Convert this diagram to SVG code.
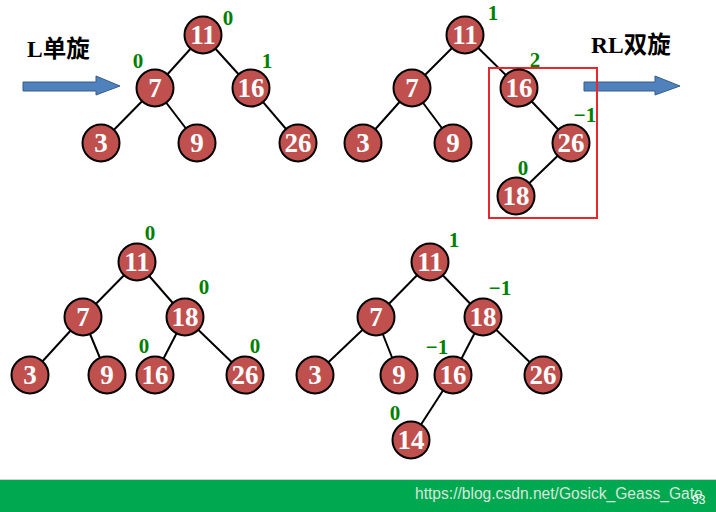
<svg xmlns="http://www.w3.org/2000/svg" width="716" height="512" viewBox="0 0 716 512">
<style>
.n circle{fill:#c0504d;stroke:#000;stroke-width:2}
.n text{fill:#fff;font-family:"Liberation Serif",serif;font-weight:bold;font-size:27px;text-anchor:middle}
.b{fill:#008000;font-family:"Liberation Serif",serif;font-weight:bold;font-size:21px;text-anchor:middle}
.e line{stroke:#000;stroke-width:2}
.t{font-family:"Liberation Serif","Noto Sans CJK SC",serif;font-weight:bold;font-size:23.5px;fill:#000}
.arr{fill:#4f81bd;stroke:#385d8a;stroke-width:1}
</style>
<rect width="716" height="512" fill="#fff"/>
<text class="t" x="27" y="57">L单旋</text>
<polygon class="arr" points="23,82 96,82 96,76 120,86 96,95 96,91 23,91"/>
<text class="t" x="591" y="53">RL双旋</text>
<polygon class="arr" points="584,82 655,82 655,76 680,86 655,95 655,91 584,91"/>
<g class="e" id="connectors">
<line x1="203" y1="35" x2="155" y2="88"/><line x1="203" y1="35" x2="251" y2="88"/>
<line x1="155" y1="88" x2="101" y2="143"/><line x1="155" y1="88" x2="197" y2="143"/>
<line x1="251" y1="88" x2="298" y2="143"/>
<line x1="465" y1="35" x2="412" y2="88"/><line x1="465" y1="35" x2="519" y2="88"/>
<line x1="412" y1="88" x2="363" y2="143"/><line x1="412" y1="88" x2="453" y2="143"/>
<line x1="519" y1="88" x2="571" y2="143"/><line x1="571" y1="143" x2="516" y2="196"/>
<line x1="137" y1="262" x2="83" y2="317"/><line x1="137" y1="262" x2="185" y2="317"/>
<line x1="83" y1="317" x2="30" y2="375"/><line x1="83" y1="317" x2="107" y2="375"/>
<line x1="185" y1="317" x2="155" y2="375"/><line x1="185" y1="317" x2="245" y2="375"/>
<line x1="430" y1="262" x2="376" y2="317"/><line x1="430" y1="262" x2="483" y2="317"/>
<line x1="376" y1="317" x2="315" y2="375"/><line x1="376" y1="317" x2="399" y2="375"/>
<line x1="483" y1="317" x2="453" y2="375"/><line x1="483" y1="317" x2="543" y2="375"/>
<line x1="453" y1="375" x2="411" y2="440"/>
</g>
<rect x="489" y="68" width="108" height="150" fill="none" stroke="#e8262b" stroke-width="2"/>
<g class="n" id="a11"><circle cx="203" cy="35" r="18.5"/><text x="203" y="44">11</text></g>
<g class="n" id="a7"><circle cx="155" cy="88" r="18.5"/><text x="155" y="97">7</text></g>
<g class="n" id="a16"><circle cx="251" cy="88" r="18.5"/><text x="251" y="97">16</text></g>
<g class="n" id="a3"><circle cx="101" cy="143" r="18.5"/><text x="101" y="152">3</text></g>
<g class="n" id="a9"><circle cx="197" cy="143" r="18.5"/><text x="197" y="152">9</text></g>
<g class="n" id="a26"><circle cx="298" cy="143" r="18.5"/><text x="298" y="152">26</text></g>
<g class="n" id="b11"><circle cx="465" cy="35" r="18.5"/><text x="465" y="44">11</text></g>
<g class="n" id="b7"><circle cx="412" cy="88" r="18.5"/><text x="412" y="97">7</text></g>
<g class="n" id="b16"><circle cx="519" cy="88" r="18.5"/><text x="519" y="97">16</text></g>
<g class="n" id="b3"><circle cx="363" cy="143" r="18.5"/><text x="363" y="152">3</text></g>
<g class="n" id="b9"><circle cx="453" cy="143" r="18.5"/><text x="453" y="152">9</text></g>
<g class="n" id="b26"><circle cx="571" cy="143" r="18.5"/><text x="571" y="152">26</text></g>
<g class="n" id="b18"><circle cx="516" cy="196" r="18.5"/><text x="516" y="205">18</text></g>
<g class="n" id="c11"><circle cx="137" cy="262" r="18.5"/><text x="137" y="271">11</text></g>
<g class="n" id="c7"><circle cx="83" cy="317" r="18.5"/><text x="83" y="326">7</text></g>
<g class="n" id="c18"><circle cx="185" cy="317" r="18.5"/><text x="185" y="326">18</text></g>
<g class="n" id="c3"><circle cx="30" cy="375" r="18.5"/><text x="30" y="384">3</text></g>
<g class="n" id="c9"><circle cx="107" cy="375" r="18.5"/><text x="107" y="384">9</text></g>
<g class="n" id="c16"><circle cx="155" cy="375" r="18.5"/><text x="155" y="384">16</text></g>
<g class="n" id="c26"><circle cx="245" cy="375" r="18.5"/><text x="245" y="384">26</text></g>
<g class="n" id="d11"><circle cx="430" cy="262" r="18.5"/><text x="430" y="271">11</text></g>
<g class="n" id="d7"><circle cx="376" cy="317" r="18.5"/><text x="376" y="326">7</text></g>
<g class="n" id="d18"><circle cx="483" cy="317" r="18.5"/><text x="483" y="326">18</text></g>
<g class="n" id="d3"><circle cx="315" cy="375" r="18.5"/><text x="315" y="384">3</text></g>
<g class="n" id="d9"><circle cx="399" cy="375" r="18.5"/><text x="399" y="384">9</text></g>
<g class="n" id="d16"><circle cx="453" cy="375" r="18.5"/><text x="453" y="384">16</text></g>
<g class="n" id="d26"><circle cx="543" cy="375" r="18.5"/><text x="543" y="384">26</text></g>
<g class="n" id="d14"><circle cx="411" cy="440" r="18.5"/><text x="411" y="449">14</text></g>
<g id="labels">
<text class="b" x="228" y="25">0</text>
<text class="b" x="138" y="68">0</text>
<text class="b" x="267" y="68">1</text>
<text class="b" x="493" y="20">1</text>
<text class="b" x="535" y="67">2</text>
<text class="b" x="585" y="122">−1</text>
<text class="b" x="523" y="175">0</text>
<text class="b" x="150" y="240">0</text>
<text class="b" x="204" y="294">0</text>
<text class="b" x="144" y="353">0</text>
<text class="b" x="255" y="353">0</text>
<text class="b" x="454" y="247">1</text>
<text class="b" x="500" y="295">−1</text>
<text class="b" x="437" y="354">−1</text>
<text class="b" x="395" y="420">0</text>
</g>
<line x1="0" y1="479.5" x2="716" y2="479.5" stroke="#d0d0d0" stroke-width="1"/>
<rect x="0" y="480" width="716" height="32" fill="#00a84f"/>
<text x="415" y="499" font-family="Liberation Sans,Arial,sans-serif" font-size="15.6" fill="#d8e6dc">https://blog.csdn.net/Gosick_Geass_Gate</text>
<text x="692" y="504" font-family="Liberation Sans,Arial,sans-serif" font-size="12" fill="#fff">93</text>
</svg>
